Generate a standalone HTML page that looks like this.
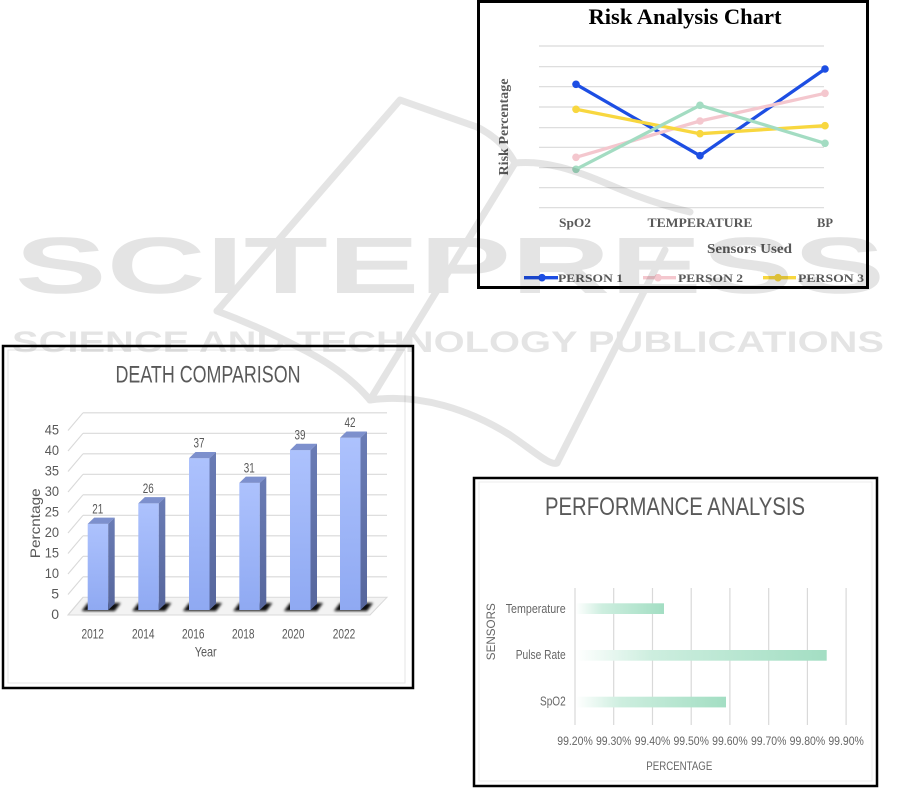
<!DOCTYPE html>
<html><head><meta charset="utf-8"><style>html,body{margin:0;padding:0;background:#fff;}svg{display:block}</style></head>
<body>
<svg width="901" height="790" viewBox="0 0 901 790" xmlns="http://www.w3.org/2000/svg">
<defs>
<linearGradient id="bf" x1="0" y1="0" x2="0" y2="1"><stop offset="0" stop-color="#adc2fd"/><stop offset="1" stop-color="#8fa9f2"/></linearGradient>
<linearGradient id="bs" x1="0" y1="0" x2="0" y2="1"><stop offset="0" stop-color="#6a7cb5"/><stop offset="1" stop-color="#56669c"/></linearGradient>
<linearGradient id="gb" x1="0" y1="0" x2="1" y2="0"><stop offset="0" stop-color="#ffffff"/><stop offset="0.3" stop-color="#cdeedf"/><stop offset="1" stop-color="#a3dec3"/></linearGradient>
<filter id="blur" x="-20%" y="-50%" width="140%" height="200%"><feGaussianBlur stdDeviation="1.4"/></filter>
</defs>
<rect width="901" height="790" fill="#fff"/>

<!-- ============ RISK ANALYSIS CHART ============ -->
<rect x="478.5" y="1.5" width="389" height="286" fill="#fff" stroke="#000" stroke-width="3"/>
<text x="685" y="24" font-family="Liberation Serif, serif" font-weight="bold" font-size="22" text-anchor="middle" textLength="193" lengthAdjust="spacingAndGlyphs" fill="#000">Risk Analysis Chart</text>
<g stroke="#d9d9d9" stroke-width="1.2">
<line x1="539" y1="46" x2="824" y2="46"/>
<line x1="539" y1="66.7" x2="824" y2="66.7"/>
<line x1="539" y1="86.7" x2="824" y2="86.7"/>
<line x1="539" y1="107" x2="824" y2="107"/>
<line x1="539" y1="127.7" x2="824" y2="127.7"/>
<line x1="539" y1="147.3" x2="824" y2="147.3"/>
<line x1="539" y1="167.7" x2="824" y2="167.7"/>
<line x1="539" y1="187.7" x2="824" y2="187.7"/>
<line x1="539" y1="207.7" x2="824" y2="207.7"/>
</g>
<g font-family="Liberation Serif, serif" font-weight="bold" fill="#595959">
<text x="575" y="227" font-size="13" text-anchor="middle" textLength="32" lengthAdjust="spacingAndGlyphs">SpO2</text>
<text x="700" y="227" font-size="13" text-anchor="middle" textLength="105" lengthAdjust="spacingAndGlyphs">TEMPERATURE</text>
<text x="825" y="227" font-size="13" text-anchor="middle" textLength="16" lengthAdjust="spacingAndGlyphs">BP</text>
<text x="749.5" y="253" font-size="14" text-anchor="middle" textLength="85" lengthAdjust="spacingAndGlyphs">Sensors Used</text>
<text transform="translate(508,127) rotate(-90)" font-size="14" text-anchor="middle" textLength="97" lengthAdjust="spacingAndGlyphs">Risk Percentage</text>
<text x="558" y="282" font-size="12" textLength="65" lengthAdjust="spacingAndGlyphs">PERSON 1</text>
<text x="678" y="282" font-size="12" textLength="65" lengthAdjust="spacingAndGlyphs">PERSON 2</text>
<text x="798" y="282" font-size="12" textLength="66" lengthAdjust="spacingAndGlyphs">PERSON 3</text>
</g>
<g fill="none" stroke-width="3.3" stroke-linejoin="round" stroke-linecap="round">
<polyline points="576,84.3 700,155.7 825,69" stroke="#1d4ee3"/>
<polyline points="576,157.3 700,121 825,93.3" stroke="#f4c7ce"/>
<polyline points="576,109.3 700,133.7 825,125.7" stroke="#f8d73f"/>
<polyline points="576,169.3 700,105.3 825,143.3" stroke="#a3dcc2"/>
</g>
<g>
<circle cx="576" cy="84.3" r="3.8" fill="#1d4ee3"/><circle cx="700" cy="155.7" r="3.8" fill="#1d4ee3"/><circle cx="825" cy="69" r="3.8" fill="#1d4ee3"/>
<circle cx="576" cy="157.3" r="3.8" fill="#f4c7ce"/><circle cx="700" cy="121" r="3.8" fill="#f4c7ce"/><circle cx="825" cy="93.3" r="3.8" fill="#f4c7ce"/>
<circle cx="576" cy="109.3" r="3.8" fill="#f8d73f"/><circle cx="700" cy="133.7" r="3.8" fill="#f8d73f"/><circle cx="825" cy="125.7" r="3.8" fill="#f8d73f"/>
<circle cx="576" cy="169.3" r="3.8" fill="#a3dcc2"/><circle cx="700" cy="105.3" r="3.8" fill="#a3dcc2"/><circle cx="825" cy="143.3" r="3.8" fill="#a3dcc2"/>
</g>
<g stroke-width="3.3">
<line x1="524" y1="277.7" x2="558" y2="277.7" stroke="#1d4ee3"/><circle cx="542" cy="277.7" r="3.8" fill="#1d4ee3"/>
<line x1="643" y1="277.7" x2="676" y2="277.7" stroke="#f4c7ce"/><circle cx="658" cy="277.7" r="3.8" fill="#f4c7ce"/>
<line x1="763" y1="277.7" x2="796" y2="277.7" stroke="#f8d73f"/><circle cx="778" cy="277.7" r="3.8" fill="#f8d73f"/>
</g>

<!-- ============ DEATH COMPARISON ============ -->
<rect x="3" y="346" width="410" height="342" fill="#fff" stroke="#000" stroke-width="2.5"/>
<rect x="8" y="350" width="397" height="333" fill="none" stroke="#e6e6e6" stroke-width="1"/>
<text x="208" y="382.7" font-family="Liberation Sans, sans-serif" font-size="24" text-anchor="middle" textLength="185" lengthAdjust="spacingAndGlyphs" fill="#595959">DEATH COMPARISON</text>
<polygon points="68,615 370,615 387,597.3 83,597.3" fill="#f3f3f3" stroke="#d9d9d9" stroke-width="1"/>
<g stroke="#d9d9d9" stroke-width="1.1">
<line x1="83" y1="576.8" x2="387" y2="576.8"/>
<line x1="83" y1="556.3" x2="387" y2="556.3"/>
<line x1="83" y1="535.8" x2="387" y2="535.8"/>
<line x1="83" y1="515.3" x2="387" y2="515.3"/>
<line x1="83" y1="494.8" x2="387" y2="494.8"/>
<line x1="83" y1="474.3" x2="387" y2="474.3"/>
<line x1="83" y1="453.8" x2="387" y2="453.8"/>
<line x1="83" y1="433.3" x2="387" y2="433.3"/>
<line x1="83" y1="412.8" x2="387" y2="412.8"/>
<line x1="68" y1="615" x2="83" y2="597.3"/>
<line x1="68" y1="594.5" x2="83" y2="576.8"/>
<line x1="68" y1="574" x2="83" y2="556.3"/>
<line x1="68" y1="553.5" x2="83" y2="535.8"/>
<line x1="68" y1="533" x2="83" y2="515.3"/>
<line x1="68" y1="512.5" x2="83" y2="494.8"/>
<line x1="68" y1="492" x2="83" y2="474.3"/>
<line x1="68" y1="471.5" x2="83" y2="453.8"/>
<line x1="68" y1="451" x2="83" y2="433.3"/>
<line x1="68" y1="430.5" x2="83" y2="412.8"/>
</g>
<g>
<polygon points="81.7,611 114.7,611 120.7,603 87.7,603" fill="#111" filter="url(#blur)"/>
<polygon points="132.3,611 165.3,611 171.3,603 138.3,603" fill="#111" filter="url(#blur)"/>
<polygon points="183,611 216,611 222,603 189,603" fill="#111" filter="url(#blur)"/>
<polygon points="233.3,611 266.3,611 272.3,603 239.3,603" fill="#111" filter="url(#blur)"/>
<polygon points="284,611 317,611 323,603 290,603" fill="#111" filter="url(#blur)"/>
<polygon points="334,611 367,611 373,603 340,603" fill="#111" filter="url(#blur)"/>
</g>
<g>
<rect x="87.7" y="523.9" width="20.5" height="86.1" fill="url(#bf)"/>
<polygon points="108.2,523.9 114.7,517.6 114.7,603.7 108.2,610" fill="url(#bs)"/>
<polygon points="87.7,523.9 94.2,517.6 114.7,517.6 108.2,523.9" fill="#7d90cd"/>

<rect x="138.3" y="503.4" width="20.5" height="106.6" fill="url(#bf)"/>
<polygon points="158.8,503.4 165.3,497.1 165.3,603.7 158.8,610" fill="url(#bs)"/>
<polygon points="138.3,503.4 144.8,497.1 165.3,497.1 158.8,503.4" fill="#7d90cd"/>

<rect x="189" y="458.3" width="20.5" height="151.7" fill="url(#bf)"/>
<polygon points="209.5,458.3 216,452 216,603.7 209.5,610" fill="url(#bs)"/>
<polygon points="189,458.3 195.5,452 216,452 209.5,458.3" fill="#7d90cd"/>

<rect x="239.3" y="482.9" width="20.5" height="127.1" fill="url(#bf)"/>
<polygon points="259.8,482.9 266.3,476.6 266.3,603.7 259.8,610" fill="url(#bs)"/>
<polygon points="239.3,482.9 245.8,476.6 266.3,476.6 259.8,482.9" fill="#7d90cd"/>

<rect x="290" y="450.1" width="20.5" height="159.9" fill="url(#bf)"/>
<polygon points="310.5,450.1 317,443.8 317,603.7 310.5,610" fill="url(#bs)"/>
<polygon points="290,450.1 296.5,443.8 317,443.8 310.5,450.1" fill="#7d90cd"/>

<rect x="340" y="437.8" width="20.5" height="172.2" fill="url(#bf)"/>
<polygon points="360.5,437.8 367,431.5 367,603.7 360.5,610" fill="url(#bs)"/>
<polygon points="340,437.8 346.5,431.5 367,431.5 360.5,437.8" fill="#7d90cd"/>
</g>
<g font-family="Liberation Sans, sans-serif" font-size="14" fill="#595959" text-anchor="middle">
<text x="97.7" y="513.3" textLength="11" lengthAdjust="spacingAndGlyphs">21</text>
<text x="148.3" y="492.8" textLength="11" lengthAdjust="spacingAndGlyphs">26</text>
<text x="199" y="447.7" textLength="11" lengthAdjust="spacingAndGlyphs">37</text>
<text x="249.3" y="472.3" textLength="11" lengthAdjust="spacingAndGlyphs">31</text>
<text x="300" y="439.5" textLength="11" lengthAdjust="spacingAndGlyphs">39</text>
<text x="350" y="427.2" textLength="11" lengthAdjust="spacingAndGlyphs">42</text>
<text x="92.7" y="638.3" textLength="22.5" lengthAdjust="spacingAndGlyphs">2012</text>
<text x="143.3" y="638.3" textLength="22.5" lengthAdjust="spacingAndGlyphs">2014</text>
<text x="193.3" y="638.3" textLength="22.5" lengthAdjust="spacingAndGlyphs">2016</text>
<text x="243.3" y="638.3" textLength="22.5" lengthAdjust="spacingAndGlyphs">2018</text>
<text x="293.3" y="638.3" textLength="22.5" lengthAdjust="spacingAndGlyphs">2020</text>
<text x="344" y="638.3" textLength="22.5" lengthAdjust="spacingAndGlyphs">2022</text>
<text x="205.7" y="656.7" textLength="22" lengthAdjust="spacingAndGlyphs">Year</text>
<text transform="translate(40,523.3) rotate(-90)" textLength="70" lengthAdjust="spacingAndGlyphs">Percntage</text>
</g>
<g font-family="Liberation Sans, sans-serif" font-size="14" fill="#595959" text-anchor="end">
<text x="59" y="434.5" textLength="14.3" lengthAdjust="spacingAndGlyphs">45</text>
<text x="59" y="455" textLength="14.3" lengthAdjust="spacingAndGlyphs">40</text>
<text x="59" y="475.5" textLength="14.3" lengthAdjust="spacingAndGlyphs">35</text>
<text x="59" y="496" textLength="14.3" lengthAdjust="spacingAndGlyphs">30</text>
<text x="59" y="516.5" textLength="14.3" lengthAdjust="spacingAndGlyphs">25</text>
<text x="59" y="537" textLength="14.3" lengthAdjust="spacingAndGlyphs">20</text>
<text x="59" y="557.5" textLength="14.3" lengthAdjust="spacingAndGlyphs">15</text>
<text x="59" y="578" textLength="14.3" lengthAdjust="spacingAndGlyphs">10</text>
<text x="59" y="598.5">5</text>
<text x="59" y="619">0</text>
</g>

<!-- ============ PERFORMANCE ANALYSIS ============ -->
<rect x="474" y="478" width="403" height="308" fill="#fff" stroke="#000" stroke-width="2.5"/>
<rect x="479" y="482" width="393" height="299" fill="none" stroke="#ececec" stroke-width="1"/>
<text x="675" y="515" font-family="Liberation Sans, sans-serif" font-size="25" text-anchor="middle" textLength="260" lengthAdjust="spacingAndGlyphs" fill="#595959">PERFORMANCE ANALYSIS</text>
<g stroke="#d9d9d9" stroke-width="1.2">
<line x1="575" y1="588" x2="575" y2="725"/>
<line x1="613.7" y1="588" x2="613.7" y2="725"/>
<line x1="652.5" y1="588" x2="652.5" y2="725"/>
<line x1="691.2" y1="588" x2="691.2" y2="725"/>
<line x1="729.9" y1="588" x2="729.9" y2="725"/>
<line x1="768.7" y1="588" x2="768.7" y2="725"/>
<line x1="807.4" y1="588" x2="807.4" y2="725"/>
<line x1="846.1" y1="588" x2="846.1" y2="725"/>
</g>
<rect x="576" y="603.3" width="88" height="10.7" fill="url(#gb)"/>
<rect x="576" y="650" width="250.7" height="10.7" fill="url(#gb)"/>
<rect x="576" y="696.7" width="150" height="10.7" fill="url(#gb)"/>
<g font-family="Liberation Sans, sans-serif" fill="#666">
<text x="565.7" y="613" font-size="13" text-anchor="end" textLength="60" lengthAdjust="spacingAndGlyphs">Temperature</text>
<text x="565.7" y="659" font-size="13" text-anchor="end" textLength="50" lengthAdjust="spacingAndGlyphs">Pulse Rate</text>
<text x="565.7" y="705.5" font-size="13" text-anchor="end" textLength="25.7" lengthAdjust="spacingAndGlyphs">SpO2</text>
<text transform="translate(495,631.7) rotate(-90)" font-size="12" text-anchor="middle" textLength="57" lengthAdjust="spacingAndGlyphs">SENSORS</text>
<text x="679.3" y="770" font-size="12" text-anchor="middle" textLength="66" lengthAdjust="spacingAndGlyphs">PERCENTAGE</text>
<g font-size="12" text-anchor="middle">
<text x="575" y="745" textLength="35.5" lengthAdjust="spacingAndGlyphs">99.20%</text>
<text x="613.7" y="745" textLength="35.5" lengthAdjust="spacingAndGlyphs">99.30%</text>
<text x="652.5" y="745" textLength="35.5" lengthAdjust="spacingAndGlyphs">99.40%</text>
<text x="691.2" y="745" textLength="35.5" lengthAdjust="spacingAndGlyphs">99.50%</text>
<text x="729.9" y="745" textLength="35.5" lengthAdjust="spacingAndGlyphs">99.60%</text>
<text x="768.7" y="745" textLength="35.5" lengthAdjust="spacingAndGlyphs">99.70%</text>
<text x="807.4" y="745" textLength="35.5" lengthAdjust="spacingAndGlyphs">99.80%</text>
<text x="846.1" y="745" textLength="35.5" lengthAdjust="spacingAndGlyphs">99.90%</text>
</g>
</g>

<!-- ============ WATERMARK ============ -->
<g opacity="0.1">
<g fill="none" stroke="#000" stroke-width="7" stroke-linejoin="round" stroke-linecap="round">
<path d="M 217,311 L 400,100 L 477,127 Q 503,140 515,163"/>
<path d="M 515,163 L 370,400"/>
<path d="M 217,311 Q 262,328 300,348 Q 345,370 370,400"/>
<path d="M 370,400 C 420,393 470,410 510,435 C 535,452 550,466 557,463"/>
<path d="M 557,463 L 665,250"/>
<path d="M 515,163 C 545,160 575,170 610,185 C 640,198 665,206 690,212"/>
</g>
<g font-family="Liberation Sans, sans-serif" font-weight="bold" fill="#000">
<text x="15" y="293" font-size="80" textLength="870" lengthAdjust="spacingAndGlyphs">SCITEPRESS</text>
<text x="12" y="352" font-size="30" textLength="872" lengthAdjust="spacingAndGlyphs">SCIENCE AND TECHNOLOGY PUBLICATIONS</text>
</g>
</g>
</svg>
</body></html>
